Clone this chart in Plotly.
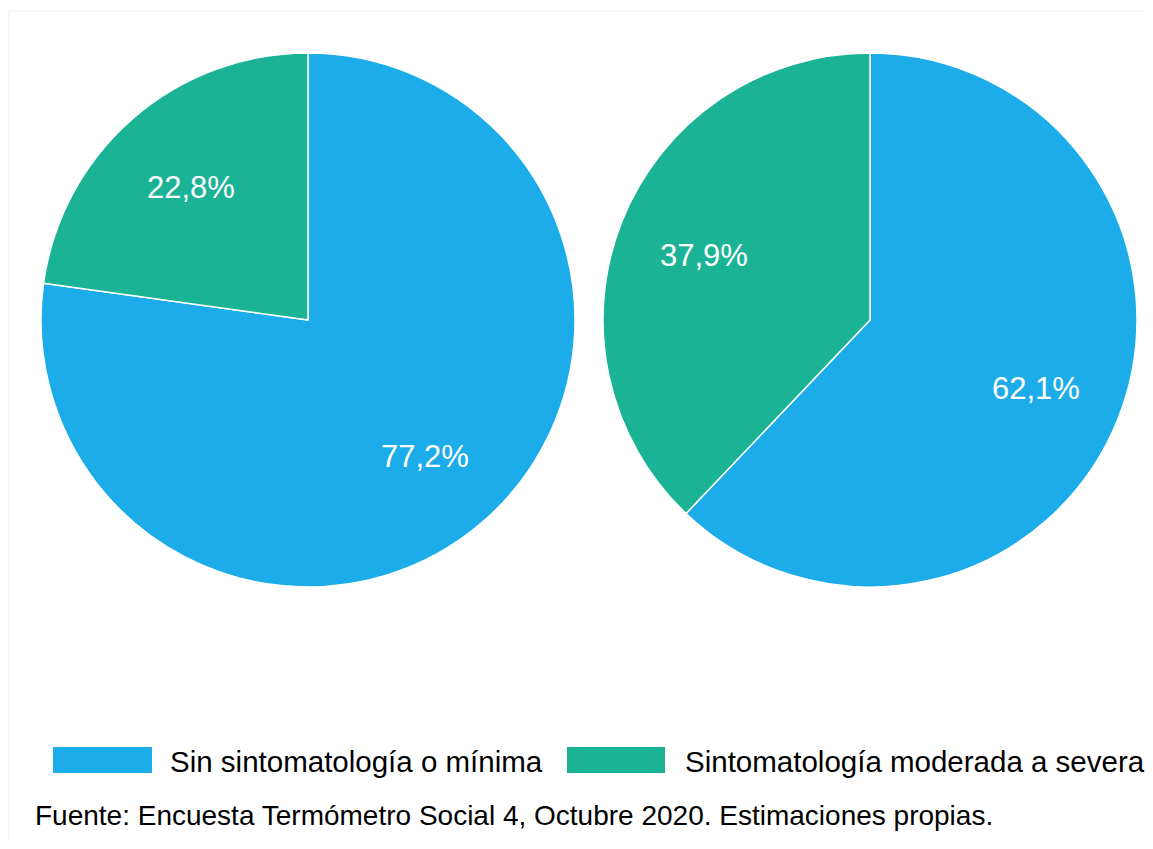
import math
import plotly.graph_objects as go

categories = ["Sin sintomatología o mínima", "Sintomatología moderada a severa"]
pie_left_values = [77.2, 22.8]
pie_right_values = [62.1, 37.9]
colors = ["#1CACEA", "#1BB396"]
source_text = "Fuente: Encuesta Termómetro Social 4, Octubre 2020. Estimaciones propias."

# page body has an 8px margin; lay out in reference pixel coordinates and shift
OFF = 8
W, H = 1153 - 2 * OFF, 849 - 2 * OFF
FONT = "Arial, 'Liberation Sans', sans-serif"


def fx(px):
    return (px - OFF) / W


def fy(py):
    return 1 - (py - OFF) / H


def pct_label(v):
    return f"{v:.1f}".replace(".", ",") + "%"


fig = go.Figure()
annotations = []
pies = [(pie_left_values, (41, 575)), (pie_right_values, (603, 1137))]
py0, py1 = 53, 587
for vals, (x0, x1) in pies:
    fig.add_trace(go.Pie(
        labels=categories,
        values=vals,
        textinfo="none",
        marker=dict(colors=colors, line=dict(color="white", width=1.5)),
        sort=False,
        direction="clockwise",
        rotation=0,
        showlegend=False,
        hoverinfo="label+percent",
        domain=dict(x=[fx(x0), fx(x1)], y=[fy(py1), fy(py0)]),
    ))
    # place value labels along each slice bisector, at 0.67 of the radius
    cx, cy, R = (x0 + x1) / 2, (py0 + py1) / 2, (x1 - x0) / 2
    total = sum(vals)
    cum = 0.0
    for v in vals:
        mid = (cum + v / 2) / total * 2 * math.pi
        cum += v
        lx = cx + 0.67 * R * math.sin(mid)
        ly = cy - 0.67 * R * math.cos(mid) + 2
        annotations.append(dict(text=pct_label(v), xref="paper", yref="paper", x=fx(lx), y=fy(ly),
                                xanchor="center", yanchor="middle", showarrow=False,
                                font=dict(family=FONT, size=31, color="white")))

shapes = [dict(type="rect", xref="paper", yref="paper", x0=fx(9), x1=fx(1200), y0=fy(900), y1=fy(11),
               line=dict(color="#EFEFEF", width=1), fillcolor="rgba(0,0,0,0)", layer="below")]
legend_pos = [(53, 152, 168), (567, 665, 683)]
for cat, col, (sx0, sx1, tx) in zip(categories, colors, legend_pos):
    shapes.append(dict(type="rect", xref="paper", yref="paper", x0=fx(sx0), x1=fx(sx1), y0=fy(773), y1=fy(747),
                       fillcolor=col, line=dict(width=0)))
    annotations.append(dict(text=cat, xref="paper", yref="paper", x=fx(tx), y=fy(761), xanchor="left",
                            yanchor="middle", showarrow=False, font=dict(family=FONT, size=29.5, color="#000000")))

annotations.append(dict(text=source_text, xref="paper", yref="paper", x=fx(33), y=fy(815), xanchor="left",
                        yanchor="middle", showarrow=False, font=dict(family=FONT, size=28, color="#000000")))

fig.update_layout(
    width=W, height=H,
    margin=dict(l=0, r=0, t=0, b=0),
    paper_bgcolor="white",
    plot_bgcolor="white",
    shapes=shapes,
    annotations=annotations,
    font=dict(family=FONT),
)

fig.write_html("out.html")
